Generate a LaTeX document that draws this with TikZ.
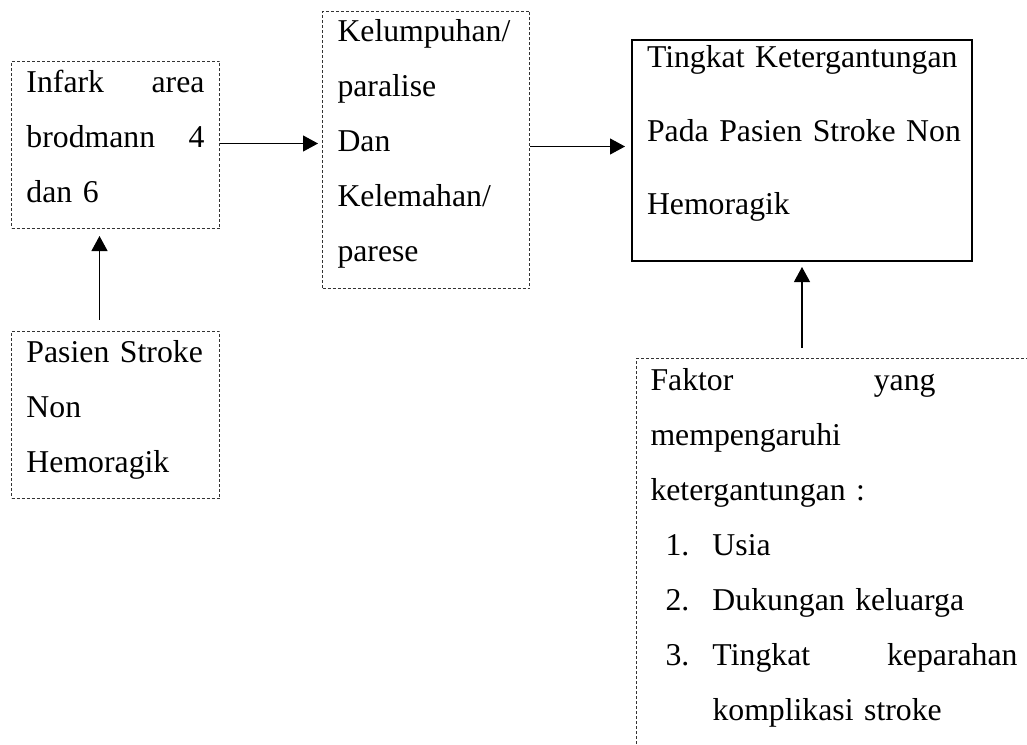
\documentclass[tikz,border=0pt]{standalone}
\usepackage{fontspec}
\setmainfont{Liberation Serif}
\usetikzlibrary{arrows.meta}

\tikzset{
kotak/.style={draw=black!80,line width=0.4pt,dash pattern=on 1.2pt off 0.8pt,anchor=north west,inner xsep=6pt,inner ysep=0pt,font=\fontsize{12.7pt}{22pt}\selectfont},
kotaktebal/.style={draw,line width=0.8pt,anchor=north west,inner xsep=6pt,inner ysep=0pt,font=\fontsize{12.7pt}{29.4pt}\selectfont},
panah/.style={-{Triangle[length=6pt,width=6.4pt]},line width=0.45pt}
}

\begin{document}
\begin{tikzpicture}[x=0.4pt,y=-0.4pt]
\useasboundingbox (0,0) rectangle (1027,745);
\node[kotak,text width=71.2pt,text height=12.4pt,text depth=54.4pt] (infark) at (11,61) {Infark\hfill area\\brodmann\hfill 4\\dan 6};
\node[kotak,text width=71.2pt,text height=12.4pt,text depth=54.4pt] (pasien) at (11,331) {\mbox{Pasien Stroke}\\Non\\Hemoragik};
\node[kotak,text width=70.8pt,text height=12pt,text depth=98.8pt] (lumpuh) at (322,11) {Kelumpuhan/\\paralise\\Dan\\Kelemahan/\\parese};
\node[kotaktebal,text width=124pt,text height=11.2pt,text depth=77.2pt] (tingkat) at (631,39) {\mbox{Tingkat Ketergantungan}\\\mbox{Pada Pasien Stroke Non}\\Hemoragik};
\node[kotak,inner xsep=5.6pt,text width=146.8pt,text height=12.8pt,text depth=170pt] (faktor) at (636,358) {\makebox[114pt][l]{Faktor\hfill yang}\\mempengaruhi\\ketergantungan :\\
\hspace*{6pt}\makebox[18.8pt][l]{1.}Usia\\
\hspace*{6pt}\makebox[18.8pt][l]{2.}\mbox{Dukungan keluarga}\\
\hspace*{6pt}\makebox[18.8pt][l]{3.}Tingkat\hfill keparahan\\
\hspace*{24.8pt}\mbox{komplikasi stroke}};
% panah
\draw[panah,shorten >=1.6pt] ([yshift=0.6pt]infark.east) -- ([yshift=0.6pt]infark.east -| lumpuh.west);
\draw[panah,shorten >=2.4pt] ([yshift=1.4pt]lumpuh.east) -- ([yshift=1.4pt]lumpuh.east -| tingkat.west);
\draw[panah,shorten <=4.4pt,shorten >=2.8pt] ([xshift=-6.4pt]pasien.north) -- ([xshift=-6.4pt]infark.south);
\draw[panah,shorten <=4pt,shorten >=2pt] (tingkat.south |- faktor.north) -- (tingkat.south);
\end{tikzpicture}
\end{document}
